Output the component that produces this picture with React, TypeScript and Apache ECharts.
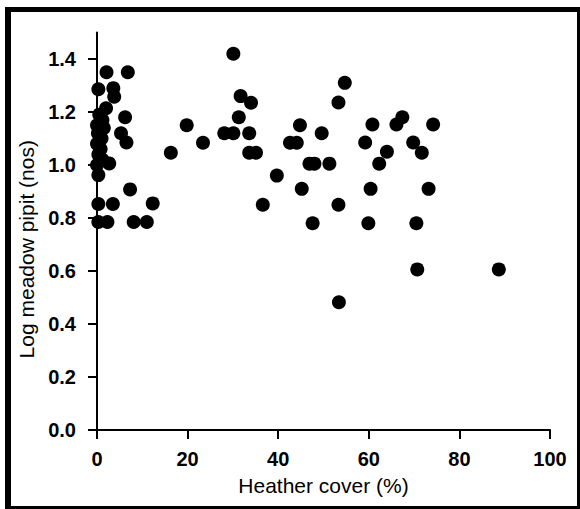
import React, { useEffect, useRef } from "react";
import * as echarts from "echarts";

const xTicks = [0, 20, 40, 60, 80, 100];
const yTicks = [0, 0.2, 0.4, 0.6, 0.8, 1.0, 1.2, 1.4];

const heatherCover = [
  2.1, 6.8, 0.3, 3.6, 3.8, 2.0, 6.2, 5.3, 6.5, 0.5, 1.2, 0, 1.5, 0.2, 1.0, 0, 0.8, 0.3, 1.2, 0, 2.7, 0.3, 7.3,
  0.3, 3.5, 12.3, 0.3, 2.3, 8.1, 11.0, 16.3, 19.8,
  23.4, 30.1, 31.7, 34.0, 31.3, 28.1, 30.1, 33.6, 33.6, 35.1, 39.7, 36.6, 44.8, 49.6, 42.6, 44.1, 46.9, 48.0,
  51.3, 45.2, 47.6,
  54.7, 53.3, 60.8, 67.4, 66.1, 74.2, 59.2, 69.8, 64.0, 62.3, 71.7, 60.4, 73.2, 53.3, 59.9, 70.5, 70.7, 88.7,
  53.4,
];
const logPipit = [
  1.35, 1.35, 1.286, 1.29, 1.258, 1.214, 1.18, 1.12, 1.085, 1.19, 1.17, 1.15, 1.14, 1.12, 1.1, 1.08, 1.06, 1.04,
  1.02, 1.0, 1.006, 0.962, 0.908, 0.853, 0.853, 0.855, 0.785, 0.785, 0.785, 0.785, 1.046, 1.15,
  1.084, 1.42, 1.26, 1.235, 1.18, 1.12, 1.12, 1.12, 1.046, 1.046, 0.96, 0.85, 1.15, 1.12, 1.084, 1.084, 1.005,
  1.005, 1.005, 0.91, 0.78,
  1.31, 1.236, 1.153, 1.18, 1.153, 1.153, 1.085, 1.085, 1.05, 1.005, 1.046, 0.91, 0.91, 0.85, 0.78, 0.78, 0.606,
  0.606, 0.482,
];

const xTitle = "Heather cover (%)";
const yTitle = "Log meadow pipit (nos)";

export default function App() {
  const ref = useRef<HTMLDivElement>(null);
  useEffect(() => {
    if (!ref.current) return;
    const chart = echarts.init(ref.current, null, { renderer: "svg" });
    const font = "'Liberation Sans', Arial, sans-serif";
    const data = heatherCover.map((x, i) => [x, logPipit[i]]);
    chart.setOption({
      animation: false,
      backgroundColor: "#fff",
      grid: { left: 97, right: 30, top: 32.5, bottom: 79, containLabel: false },
      graphic: [
        { type: "rect", shape: { x: 5, y: 7, width: 6, height: 502 }, style: { fill: "#000" } },
        { type: "rect", shape: { x: 5, y: 7, width: 575, height: 5 }, style: { fill: "#000" } },
        { type: "rect", shape: { x: 577, y: 7, width: 3, height: 502 }, style: { fill: "#000" } },
        { type: "rect", shape: { x: 5, y: 506, width: 575, height: 3 }, style: { fill: "#000" } },
      ],
      xAxis: {
        type: "value",
        min: 0,
        max: 100,
        interval: 20,
        name: xTitle,
        nameLocation: "middle",
        nameGap: 45,
        nameTextStyle: { fontFamily: font, fontSize: 21, color: "#000" },
        axisLine: { show: true, lineStyle: { color: "#000", width: 2 } },
        axisTick: { show: true, length: 9, lineStyle: { color: "#000", width: 2 }, customValues: xTicks },
        axisLabel: {
          customValues: xTicks,
          fontFamily: font,
          fontSize: 20,
          fontWeight: "bold",
          color: "#000",
          margin: 19,
        },
        splitLine: { show: false },
      },
      yAxis: {
        type: "value",
        min: 0,
        max: 1.5,
        interval: 0.2,
        name: yTitle,
        nameLocation: "middle",
        nameGap: 60,
        nameRotate: 90,
        nameTextStyle: { fontFamily: font, fontSize: 21, color: "#000", padding: [0, 36, 0, 0] },
        axisLine: { show: true, lineStyle: { color: "#000", width: 2 } },
        axisTick: { show: true, length: 9, lineStyle: { color: "#000", width: 2 }, customValues: yTicks },
        axisLabel: {
          customValues: yTicks,
          fontFamily: font,
          fontSize: 20,
          fontWeight: "bold",
          color: "#000",
          margin: 21,
          formatter: (v: number) => v.toFixed(1),
        },
        splitLine: { show: false },
      },
      series: [
        {
          type: "scatter",
          data,
          symbol: "circle",
          symbolSize: 14,
          itemStyle: { color: "#000", opacity: 1 },
        },
      ],
    });
    return () => chart.dispose();
  }, []);
  return (
    <div
      ref={ref}
      style={{ position: "fixed", left: 0, top: 0, width: 580, height: 509 }}
    />
  );
}
